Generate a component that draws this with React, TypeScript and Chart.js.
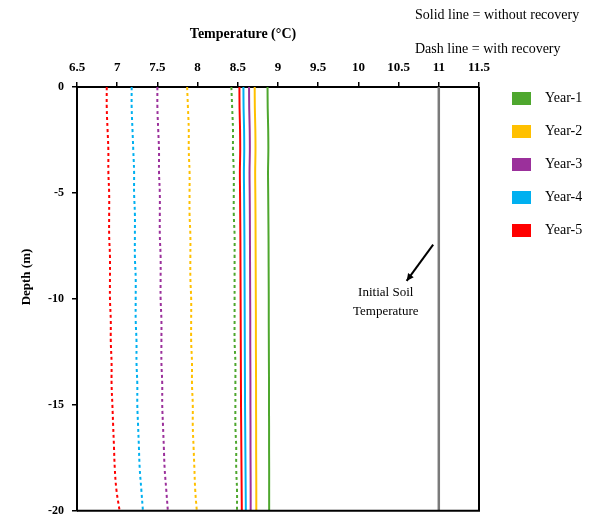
import React, { useEffect, useRef } from "react";
import { Chart, registerables } from "chart.js";

Chart.register(...registerables);

// Depth below surface (m)
const depths = [0, -1, -2, -3, -4, -5, -6, -7, -8, -9, -10, -11, -12, -13, -14, -15, -16, -17, -18, -19, -20];

// Solid lines = without recovery (°C)
const year1Solid = [8.87, 8.872, 8.878, 8.88, 8.876, 8.878, 8.88, 8.882, 8.883, 8.884, 8.885, 8.885, 8.886, 8.887, 8.888, 8.888, 8.889, 8.889, 8.89, 8.89, 8.89];
const year2Solid = [8.71, 8.712, 8.718, 8.72, 8.716, 8.718, 8.72, 8.721, 8.722, 8.723, 8.724, 8.725, 8.725, 8.726, 8.727, 8.727, 8.728, 8.728, 8.729, 8.73, 8.73];
const year3Solid = [8.64, 8.642, 8.648, 8.65, 8.646, 8.648, 8.65, 8.651, 8.652, 8.653, 8.654, 8.655, 8.655, 8.656, 8.657, 8.657, 8.658, 8.658, 8.659, 8.66, 8.66];
const year4Solid = [8.57, 8.572, 8.578, 8.58, 8.576, 8.578, 8.58, 8.582, 8.583, 8.584, 8.585, 8.586, 8.587, 8.588, 8.589, 8.59, 8.592, 8.594, 8.596, 8.598, 8.6];
const year5Solid = [8.52, 8.522, 8.528, 8.53, 8.526, 8.528, 8.53, 8.532, 8.533, 8.534, 8.535, 8.536, 8.537, 8.538, 8.539, 8.54, 8.542, 8.544, 8.546, 8.548, 8.55];

// Dashed lines = with recovery (°C)
const year1Dash = [8.42, 8.43, 8.44, 8.44, 8.45, 8.45, 8.45, 8.46, 8.46, 8.46, 8.46, 8.46, 8.46, 8.47, 8.47, 8.47, 8.47, 8.48, 8.48, 8.49, 8.49];
const year2Dash = [7.87, 7.88, 7.89, 7.89, 7.9, 7.9, 7.9, 7.91, 7.91, 7.91, 7.92, 7.92, 7.92, 7.93, 7.93, 7.94, 7.94, 7.95, 7.96, 7.97, 7.99];
const year3Dash = [7.5, 7.5, 7.51, 7.52, 7.52, 7.53, 7.53, 7.53, 7.54, 7.54, 7.54, 7.55, 7.55, 7.55, 7.56, 7.56, 7.57, 7.58, 7.59, 7.61, 7.63];
const year4Dash = [7.18, 7.18, 7.19, 7.2, 7.21, 7.21, 7.22, 7.22, 7.22, 7.23, 7.23, 7.23, 7.24, 7.24, 7.25, 7.25, 7.26, 7.27, 7.28, 7.3, 7.32];
const year5Dash = [6.87, 6.87, 6.88, 6.89, 6.89, 6.9, 6.9, 6.9, 6.91, 6.91, 6.91, 6.92, 6.92, 6.93, 6.93, 6.94, 6.95, 6.96, 6.97, 6.99, 7.03];

const seriesLabels = ["Year-1", "Year-2", "Year-3", "Year-4", "Year-5"];
const seriesColors = ["#4ea72e", "#ffc000", "#9b309b", "#00b0f0", "#ff0000"];
const solidSeries = [year1Solid, year2Solid, year3Solid, year4Solid, year5Solid];
const dashSeries = [year1Dash, year2Dash, year3Dash, year4Dash, year5Dash];

const initialSoilTemp = 11;
const xMin = 6.5;
const xMax = 11.5;
const xStep = 0.5;
const yMin = -20;
const yMax = 0;
const yStep = 5;

const SERIF = "'Liberation Serif', 'Times New Roman', serif";

export default function App() {
  const ref = useRef<HTMLCanvasElement>(null);

  useEffect(() => {
    if (!ref.current) return;
    const toPts = (vals: number[]) => vals.map((v, i) => ({ x: v, y: depths[i] }));

    const datasets: any[] = [];
    dashSeries.forEach((vals, i) => {
      datasets.push({
        label: seriesLabels[i] + " (with recovery)",
        data: toPts(vals),
        borderColor: seriesColors[i],
        borderWidth: 2,
        borderDash: [3, 3],
        showLine: true,
        pointRadius: 0,
        tension: 0.4,
      });
    });
    solidSeries.forEach((vals, i) => {
      datasets.push({
        label: seriesLabels[i] + " (without recovery)",
        data: toPts(vals),
        borderColor: seriesColors[i],
        borderWidth: 2,
        showLine: true,
        pointRadius: 0,
        tension: 0.4,
      });
    });
    datasets.push({
      label: "Initial Soil Temperature",
      data: [
        { x: initialSoilTemp, y: yMax },
        { x: initialSoilTemp, y: yMin },
      ],
      borderColor: "#7a7a7a",
      borderWidth: 2.5,
      showLine: true,
      pointRadius: 0,
    });

    const decor = {
      id: "decor",
      afterDraw(chart: any) {
        const { ctx, chartArea, scales } = chart;
        const xs = scales.x;
        const ys = scales.y;
        ctx.save();
        // right and bottom frame
        ctx.strokeStyle = "#000";
        ctx.lineWidth = 2;
        ctx.beginPath();
        ctx.moveTo(chartArea.right, chartArea.top);
        ctx.lineTo(chartArea.right, chartArea.bottom);
        ctx.lineTo(chartArea.left, chartArea.bottom);
        ctx.stroke();

        ctx.fillStyle = "#000";
        // axis titles
        ctx.font = `bold 14px ${SERIF}`;
        ctx.textAlign = "center";
        ctx.textBaseline = "middle";
        ctx.fillText("Temperature (°C)", 243, 34);

        ctx.save();
        ctx.translate(27, 277);
        ctx.rotate(-Math.PI / 2);
        ctx.font = `bold 13px ${SERIF}`;
        ctx.fillText("Depth (m)", 0, 0);
        ctx.restore();

        // notes
        ctx.font = `14px ${SERIF}`;
        ctx.textAlign = "left";
        ctx.fillText("Solid line = without recovery", 415, 15);
        ctx.fillText("Dash line = with recovery", 415, 49);

        // arrow annotation
        const ax1 = xs.getPixelForValue(10.93);
        const ay1 = ys.getPixelForValue(-7.44);
        const ax2 = xs.getPixelForValue(10.6);
        const ay2 = ys.getPixelForValue(-9.15);
        ctx.strokeStyle = "#000";
        ctx.lineWidth = 2;
        ctx.beginPath();
        ctx.moveTo(ax1, ay1);
        ctx.lineTo(ax2, ay2);
        ctx.stroke();
        const ang = Math.atan2(ay2 - ay1, ax2 - ax1);
        const hl = 8;
        ctx.beginPath();
        ctx.moveTo(ax2, ay2);
        ctx.lineTo(ax2 - hl * Math.cos(ang - 0.45), ay2 - hl * Math.sin(ang - 0.45));
        ctx.lineTo(ax2 - hl * Math.cos(ang + 0.45), ay2 - hl * Math.sin(ang + 0.45));
        ctx.closePath();
        ctx.fill();

        ctx.font = `13px ${SERIF}`;
        ctx.textAlign = "center";
        const tx = xs.getPixelForValue(10.34);
        ctx.fillText("Initial Soil", tx, ys.getPixelForValue(-9.7));
        ctx.fillText("Temperature", tx, ys.getPixelForValue(-10.58));

        // legend
        ctx.textAlign = "left";
        ctx.font = `14px ${SERIF}`;
        seriesLabels.forEach((lab, i) => {
          const cy = 98 + i * 33;
          ctx.fillStyle = seriesColors[i];
          ctx.fillRect(512, cy - 6, 19, 13);
          ctx.fillStyle = "#000";
          ctx.fillText(lab, 545, cy);
        });
        ctx.restore();
      },
    };

    const chart = new Chart(ref.current, {
      type: "scatter",
      data: { datasets },
      options: {
        animation: false,
        responsive: false,
        maintainAspectRatio: false,
        layout: { padding: { left: 0, right: 121, top: 0, bottom: 6 } },
        plugins: { legend: { display: false }, tooltip: { enabled: false } },
        scales: {
          x: {
            type: "linear",
            position: "top",
            min: xMin,
            max: xMax,
            ticks: {
              stepSize: xStep,
              color: "#000",
              padding: 7,
              font: { family: SERIF, size: 13, weight: "bold" },
              maxRotation: 0,
              callback: (v: any) => String(Number(v)),
            },
            grid: { drawOnChartArea: false, drawTicks: true, tickLength: 5, color: "#000", lineWidth: 1.5 },
            border: { display: true, color: "#000", width: 2 },
            afterFit: (s: any) => {
              s.height = 87;
            },
          },
          y: {
            type: "linear",
            position: "left",
            min: yMin,
            max: yMax,
            ticks: {
              stepSize: yStep,
              color: "#000",
              padding: 8,
              font: { family: SERIF, size: 12, weight: "bold" },
              callback: (v: any) => String(Number(v)),
            },
            grid: { drawOnChartArea: false, drawTicks: true, tickLength: 5, color: "#000", lineWidth: 1.5 },
            border: { display: true, color: "#000", width: 2 },
            afterFit: (s: any) => {
              s.width = 77;
            },
          },
        },
      } as any,
      plugins: [decor],
    });
    return () => chart.destroy();
  }, []);

  return (
    <div style={{ position: "absolute", left: 0, top: 0, width: 600, height: 526, background: "#fff" }}>
      <canvas ref={ref} width={600} height={526} />
    </div>
  );
}
